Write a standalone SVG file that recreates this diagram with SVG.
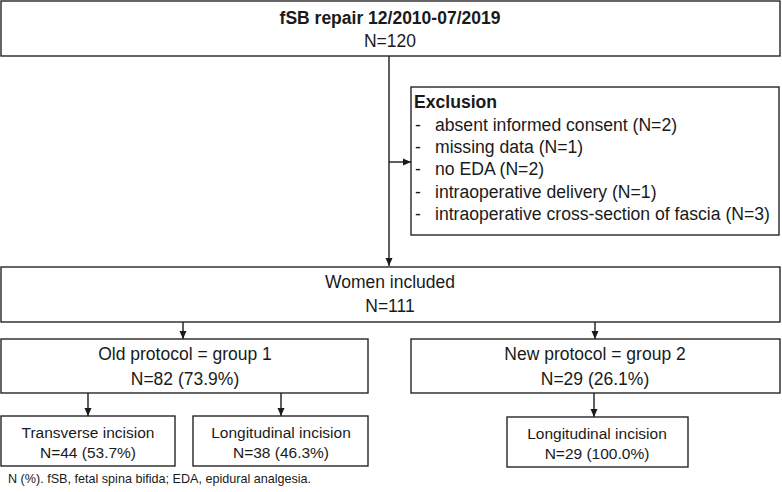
<svg xmlns="http://www.w3.org/2000/svg" width="782" height="492" viewBox="0 0 782 492">
<style>
.box{fill:#fff;stroke:#262626;stroke-width:1.4}
.t{font-family:"Liberation Sans",Arial,sans-serif;fill:#1a1a1a}
.big{font-size:17.5px;text-anchor:middle}
.mid{font-size:15.5px;text-anchor:middle}
.ex{font-size:17.6px}
.b{font-weight:bold}
.fn{font-size:12.6px}
.ln{stroke:#1a1a1a;stroke-width:1.4;fill:none}
</style>
<defs>
<marker id="ah" viewBox="0 0 8 8" refX="8" refY="4" markerWidth="8" markerHeight="8" markerUnits="userSpaceOnUse" orient="auto">
<path d="M0,0.5 L8,4 L0,7.5 Z" fill="#1a1a1a"/>
</marker>
</defs>
<rect width="782" height="492" fill="#fff"/>
<g id="connectors">
<line class="ln" x1="389" y1="56" x2="389" y2="266" marker-end="url(#ah)"/>
<line class="ln" x1="389" y1="162" x2="411" y2="162" marker-end="url(#ah)"/>
<line class="ln" x1="183" y1="322" x2="183" y2="339" marker-end="url(#ah)"/>
<line class="ln" x1="595" y1="322" x2="595" y2="339" marker-end="url(#ah)"/>
<line class="ln" x1="88" y1="393" x2="88" y2="416" marker-end="url(#ah)"/>
<line class="ln" x1="281" y1="393" x2="281" y2="416" marker-end="url(#ah)"/>
<line class="ln" x1="594" y1="393" x2="594" y2="417" marker-end="url(#ah)"/>
</g>
<g id="start">
<rect class="box" x="1" y="1" width="779" height="55"/>
<text class="t big b" x="390" y="24">fSB repair 12/2010-07/2019</text>
<text class="t big" x="390" y="47">N=120</text>
</g>
<g id="exclusion">
<rect class="box" x="411" y="87" width="368" height="148"/>
<text class="t ex b" x="414" y="108">Exclusion</text>
<text class="t ex" x="415" y="131">-</text><text class="t ex" x="435" y="131">absent informed consent (N=2)</text>
<text class="t ex" x="415" y="153">-</text><text class="t ex" x="435" y="153">missing data (N=1)</text>
<text class="t ex" x="415" y="175">-</text><text class="t ex" x="435" y="175">no EDA (N=2)</text>
<text class="t ex" x="415" y="198">-</text><text class="t ex" x="435" y="198">intraoperative delivery (N=1)</text>
<text class="t ex" x="415" y="220">-</text><text class="t ex" x="435" y="220">intraoperative cross-section of fascia (N=3)</text>
</g>
<g id="included">
<rect class="box" x="1" y="267" width="779" height="55"/>
<text class="t big" x="390" y="288">Women included</text>
<text class="t big" x="390" y="312">N=111</text>
</g>
<g id="group1">
<rect class="box" x="1" y="339" width="367" height="54"/>
<text class="t big" x="185" y="360">Old protocol = group 1</text>
<text class="t big" x="185" y="385">N=82 (73.9%)</text>
</g>
<g id="group2">
<rect class="box" x="411" y="339" width="369" height="54"/>
<text class="t big" x="595" y="360">New protocol = group 2</text>
<text class="t big" x="595" y="385">N=29 (26.1%)</text>
</g>
<g id="transverse">
<rect class="box" x="1" y="416" width="174" height="50"/>
<text class="t mid" x="88" y="438">Transverse incision</text>
<text class="t mid" x="88" y="458">N=44 (53.7%)</text>
</g>
<g id="longitudinal1">
<rect class="box" x="193" y="416" width="175" height="50"/>
<text class="t mid" x="281" y="438">Longitudinal incision</text>
<text class="t mid" x="281" y="458">N=38 (46.3%)</text>
</g>
<g id="longitudinal2">
<rect class="box" x="507" y="417" width="181" height="50"/>
<text class="t mid" x="597" y="439">Longitudinal incision</text>
<text class="t mid" x="597" y="459">N=29 (100.0%)</text>
</g>
<text class="t fn" x="8" y="483">N (%). fSB, fetal spina bifida; EDA, epidural analgesia.</text>
</svg>
